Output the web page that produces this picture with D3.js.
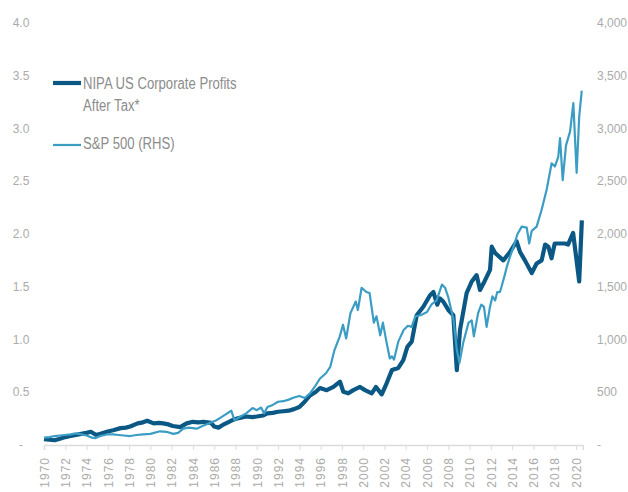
<!DOCTYPE html>
<html>
<head>
<meta charset="utf-8">
<script src="https://cdn.jsdelivr.net/npm/d3@7"></script>
<style>
  body { margin: 0; background: #fff; }
  svg { display: block; }
</style>
</head>
<body>
<div id="chart"></div>
<script>
//corporate profits (left axis, index) - dates as decimal years
const profitYears = [1970.0,1970.5,1971.0,1971.5,1972.0,1972.5,1973.0,1973.5,1974.0,1974.4,1974.9,1975.4,1975.9,1976.5,1977.2,1977.7,1978.1,1978.8,1979.3,1979.7,1980.3,1980.8,1981.2,1981.7,1982.1,1982.8,1983.4,1984.0,1984.5,1985.0,1985.7,1986.0,1986.4,1986.8,1987.2,1987.8,1988.3,1989.0,1989.6,1990.0,1990.6,1991.0,1991.5,1992.0,1992.5,1993.0,1993.5,1994.0,1994.5,1995.0,1995.5,1995.94,1996.57,1997.2,1997.82,1998.13,1998.6,1999.07,1999.7,2000.17,2000.8,2001.2,2001.74,2002.2,2002.7,2003.3,2003.77,2004.15,2004.56,2005.03,2005.65,2006.28,2006.6,2006.96,2007.2,2007.52,2008.0,2008.47,2008.8,2009.1,2009.72,2010.2,2010.66,2010.98,2011.3,2011.92,2012.08,2012.4,2013.17,2013.8,2014.42,2014.74,2015.2,2015.84,2016.3,2016.77,2017.1,2017.4,2017.7,2018.0,2018.96,2019.25,2019.73,2020.3,2020.55]
const profitValues = [0.055,0.05,0.045,0.06,0.075,0.085,0.095,0.105,0.115,0.125,0.095,0.11,0.125,0.14,0.16,0.165,0.175,0.205,0.215,0.23,0.205,0.21,0.205,0.195,0.18,0.17,0.205,0.22,0.215,0.22,0.21,0.175,0.165,0.19,0.21,0.24,0.255,0.27,0.265,0.27,0.28,0.30,0.305,0.315,0.32,0.325,0.34,0.36,0.41,0.47,0.50,0.54,0.52,0.55,0.60,0.505,0.49,0.52,0.55,0.52,0.49,0.55,0.48,0.585,0.71,0.73,0.805,0.93,0.98,1.23,1.31,1.42,1.45,1.33,1.39,1.36,1.28,1.23,0.71,1.09,1.44,1.55,1.61,1.47,1.53,1.66,1.88,1.82,1.75,1.83,1.93,1.83,1.75,1.63,1.72,1.75,1.90,1.88,1.77,1.91,1.91,1.90,2.01,1.55,2.13]

//S&P 500 (right axis)
const spxYears = [1970.0,1970.5,1971.0,1971.5,1972.0,1972.5,1973.0,1973.5,1974.0,1974.5,1974.8,1975.3,1975.9,1976.5,1977.0,1977.5,1978.1,1978.7,1979.3,1980.0,1980.9,1981.5,1982.15,1982.6,1983.1,1983.6,1984.35,1985.0,1985.75,1986.2,1986.6,1987.0,1987.6,1987.9,1988.3,1989.0,1989.6,1990.0,1990.4,1990.7,1991.0,1991.5,1992.0,1992.5,1993.0,1993.5,1994.0,1994.5,1995.0,1995.5,1995.94,1996.5,1996.9,1997.3,1997.8,1998.1,1998.4,1998.8,1999.3,1999.5,1999.85,2000.3,2000.6,2001.0,2001.25,2001.6,2001.85,2002.2,2002.5,2002.7,2002.9,2003.3,2003.8,2004.2,2004.55,2004.9,2005.4,2006.0,2006.4,2006.9,2007.4,2007.7,2008.0,2008.5,2008.8,2009.05,2009.4,2009.9,2010.2,2010.4,2010.8,2011.1,2011.35,2011.6,2011.9,2012.15,2012.4,2012.6,2012.85,2013.0,2013.3,2013.5,2013.8,2014.1,2014.5,2014.9,2015.37,2015.6,2015.84,2016.3,2016.77,2017.24,2017.71,2018.02,2018.33,2018.5,2018.75,2019.06,2019.44,2019.75,2020.06,2020.3,2020.54]
const spxValues = [70,75,85,90,95,100,110,100,90,70,65,85,100,100,95,90,85,95,100,105,130,125,105,115,155,165,155,185,215,235,260,285,325,235,260,300,350,330,355,300,360,380,410,415,430,450,465,445,490,560,630,680,740,900,1030,1140,1010,1250,1360,1280,1490,1450,1440,1160,1220,1040,1160,970,820,840,810,980,1090,1130,1120,1220,1230,1260,1330,1370,1520,1490,1400,1180,900,780,970,1160,1180,1030,1250,1330,1310,1120,1300,1410,1370,1450,1450,1500,1610,1690,1785,1870,2000,2070,2060,1910,2030,2070,2230,2420,2670,2640,2730,2910,2510,2840,2970,3240,2580,3110,3360]

//tick values
const xTicks = d3.range(1970, 2021, 2)
const leftTicks = [0, 0.5, 1.0, 1.5, 2.0, 2.5, 3.0, 3.5, 4.0]
const rightTicks = [0, 500, 1000, 1500, 2000, 2500, 3000, 3500, 4000]

//legend entries
const legendLabels = ["NIPA US Corporate Profits", "After Tax*", "S&P 500 (RHS)"]

const width = 628, height = 492

const svg = d3.select("#chart")
  .append("svg")
  .attr("width", width)
  .attr("height", height)

const tickFont = "'Liberation Sans', Arial, sans-serif"
const legendFont = "'Liberation Sans', Arial, sans-serif"

//scales
const x = d3.scaleLinear().domain([1970, 2020.62]).range([44, 582.6])
const yL = d3.scaleLinear().domain([0, 4]).range([445, 23])
const yR = d3.scaleLinear().domain([0, 4000]).range([445, 23])

//x axis
const xAxis = svg.append("g")
  .attr("transform", `translate(0, ${yL(0)})`)
  .call(d3.axisBottom(x).tickValues(xTicks).tickFormat(d => d).tickSizeOuter(0).tickSize(5))
xAxis.select(".domain").attr("stroke", "#dcdcdc").attr("stroke-width", 1.5)
xAxis.selectAll(".tick line").attr("stroke", "#dcdcdc")
xAxis.selectAll(".tick text")
  .attr("fill", "#ababab")
  .style("font-family", tickFont)
  .style("font-size", "12px")
  .style("letter-spacing", "1px")
  .attr("text-anchor", "end")
  .attr("transform", "rotate(-90)")
  .attr("x", -12)
  .attr("y", 0)
  .attr("dy", "0.35em")

//left axis labels
svg.append("g")
  .selectAll("text")
  .data(leftTicks)
  .join("text")
    .attr("x", 21)
    .attr("y", d => yL(d))
    .attr("dy", "0.35em")
    .attr("text-anchor", "middle")
    .attr("fill", "#ababab")
    .style("font-family", tickFont)
    .style("font-size", "12px")
    .text(d => d === 0 ? "-" : d3.format(".1f")(d))

//right axis labels
svg.append("g")
  .selectAll("text")
  .data(rightTicks)
  .join("text")
    .attr("x", 597)
    .attr("y", d => yR(d))
    .attr("dy", "0.35em")
    .attr("text-anchor", "start")
    .attr("fill", "#ababab")
    .style("font-family", tickFont)
    .style("font-size", "12px")
    .text(d => d === 0 ? "-" : d3.format(",")(d))

//lines
const profitData = profitYears.map((t, i) => ({t: t, v: profitValues[i]}))
const spxData = spxYears.map((t, i) => ({t: t, v: spxValues[i]}))

svg.append("path")
  .datum(profitData)
  .attr("fill", "none")
  .attr("stroke", "#0b5884")
  .attr("stroke-width", 4.2)
  .attr("stroke-linejoin", "round")
  .attr("d", d3.line().x(d => x(d.t)).y(d => yL(d.v)))

svg.append("path")
  .datum(spxData)
  .attr("fill", "none")
  .attr("stroke", "#3b9dc3")
  .attr("stroke-width", 2.2)
  .attr("stroke-linejoin", "round")
  .attr("d", d3.line().x(d => x(d.t)).y(d => yR(d.v)))

//legend
const legend = svg.append("g")
legend.append("line")
  .attr("x1", 53).attr("x2", 81).attr("y1", 83).attr("y2", 83)
  .attr("stroke", "#0b5884").attr("stroke-width", 4.2)
legend.append("line")
  .attr("x1", 53).attr("x2", 81).attr("y1", 145).attr("y2", 145)
  .attr("stroke", "#3b9dc3").attr("stroke-width", 2.2)

//condensed look: squeeze the text horizontally
const legendRows = [83, 105, 143]
legend.selectAll("g.item")
  .data(legendLabels)
  .join("g")
    .attr("class", "item")
    .attr("transform", (d, i) => `translate(83, ${legendRows[i]}) scale(0.82, 1)`)
  .append("text")
    .attr("dy", "0.35em")
    .attr("fill", "#8c8c8c")
    .style("font-family", legendFont)
    .style("font-size", "16px")
    .text(d => d)
</script>
</body>
</html>
